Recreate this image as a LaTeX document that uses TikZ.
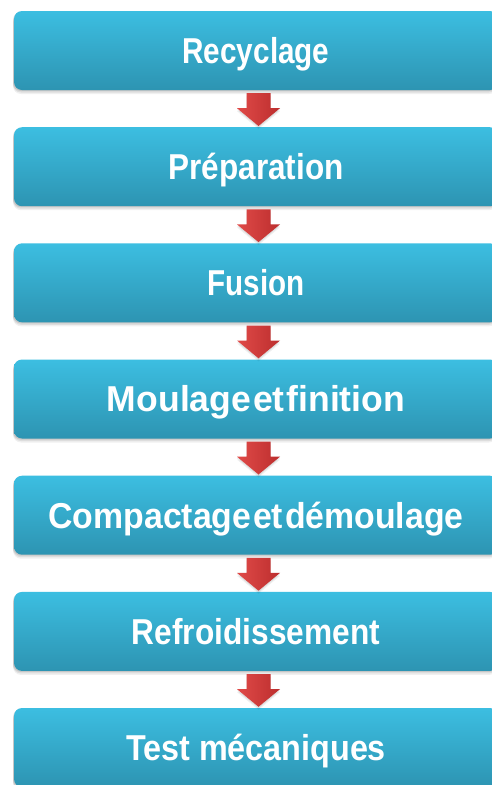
\documentclass[tikz,border=0pt]{standalone}
\usepackage{fontspec}
\usepackage{graphicx}
\usetikzlibrary{shadows,calc}
\newfontfamily\boxfont{Liberation Sans}
\definecolor{boxtop}{RGB}{60,190,225}
\definecolor{boxbot}{RGB}{45,148,178}
\definecolor{arrowlight}{RGB}{224,74,72}
\definecolor{arrowdark}{RGB}{188,46,46}
% stage label squeezed horizontally to a given width, height kept
\newcommand{\steplabel}[2]{\resizebox{#1}{\height}{\boxfont\bfseries\fontsize{36}{42}\selectfont #2}}
\begin{document}
\begin{tikzpicture}[x=1pt,y=-1pt,
  softshadow/.style={
    drop shadow={shadow xshift=-1pt, shadow yshift=-1pt, opacity=0.10, fill=black},
    drop shadow={shadow xshift=-1pt, shadow yshift=-2.5pt, opacity=0.08, fill=black},
    drop shadow={shadow xshift=-1pt, shadow yshift=-4pt, opacity=0.06, fill=black}},
  stagebox/.style={rounded corners=8pt, minimum width=484pt, minimum height=79pt,
    inner sep=0pt, top color=boxtop, bottom color=boxbot, text=white,
    text height=25.8pt, text depth=0pt, softshadow},
  flowarrow/.style={left color=arrowlight, right color=arrowdark,
    drop shadow={shadow xshift=0pt, shadow yshift=-1.5pt, opacity=0.08, fill=black},
    drop shadow={shadow xshift=0pt, shadow yshift=-3pt, opacity=0.06, fill=black}}]
\useasboundingbox (0,0) rectangle (492,785);
\fill[white] (0,0) rectangle (492,785);
\clip (0,0) rectangle (492,785);

\node[stagebox] (s1) at (256,50.5)  {\steplabel{147pt}{Recyclage}};
\node[stagebox] (s2) at (256,166.7) {\steplabel{175pt}{Préparation}};
\node[stagebox] (s3) at (256,282.8) {\steplabel{97pt}{Fusion}};
\node[stagebox] (s4) at (256,399.0) {\steplabel{298pt}{Moulage\hspace{2pt}et\hspace{2pt}finition}};
\node[stagebox] (s5) at (256,515.2) {\steplabel{415pt}{Compactage\hspace{2pt}et\hspace{2pt}démoulage}};
\node[stagebox] (s6) at (256,631.4) {\steplabel{248pt}{Refroidissement}};
\node[stagebox] (s7) at (256,747.5) {\steplabel{260pt}{Test mécaniques}};

% block arrows between consecutive stages
\foreach \a/\b in {s1/s2,s2/s3,s3/s4,s4/s5,s5/s6,s6/s7}{
  \path[flowarrow] ($(\a.south)+(-9.5,3)$) -- ($(\a.south)+(14.5,3)$)
    -- ($(\a.south)+(14.5,18)$) -- ($(\a.south)+(24,18)$)
    -- ($(\b.north)+(2.5,-1)$)
    -- ($(\a.south)+(-19,18)$) -- ($(\a.south)+(-9.5,18)$) -- cycle;
}
\end{tikzpicture}
\end{document}
